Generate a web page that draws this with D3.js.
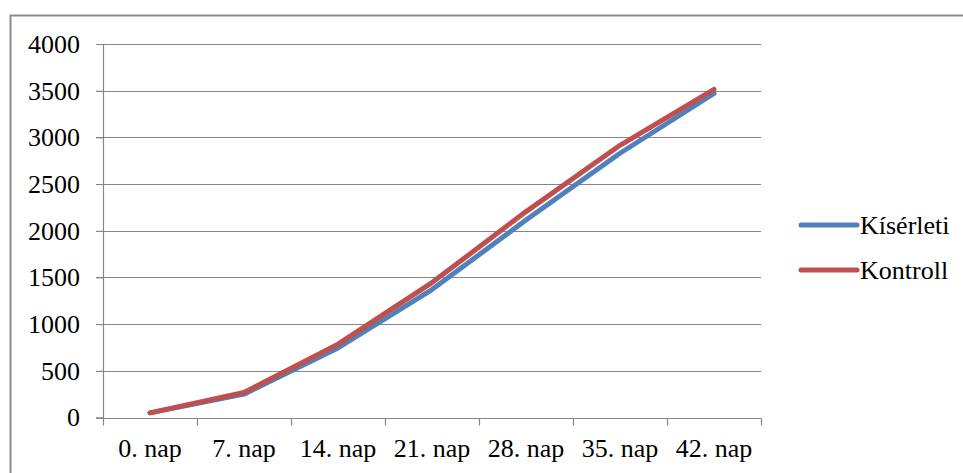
<!DOCTYPE html>
<html>
<head>
<meta charset="utf-8">
<script src="https://cdn.jsdelivr.net/npm/d3@7"></script>
<style>
  html, body { margin: 0; padding: 0; background: #fff; }
  svg { display: block; }
  svg text { font-family: "Liberation Serif", "Times New Roman", serif; font-size: 26px; fill: #000; }
</style>
</head>
<body>
<svg id="chart" width="963" height="473"></svg>
<script>
const categories = ['0. nap', '7. nap', '14. nap', '21. nap', '28. nap', '35. nap', '42. nap']
const kiserleti = [50, 250, 745, 1370, 2115, 2830, 3470]
const kontroll = [50, 268, 785, 1445, 2205, 2915, 3515]
const yTicks = [0, 500, 1000, 1500, 2000, 2500, 3000, 3500, 4000]

const seriesList = [
  { name: 'Kísérleti', data: kiserleti, color: '#4F81BD' },
  { name: 'Kontroll', data: kontroll, color: '#C0504D' },
]

const svg = d3.select('#chart')
const gridColor = '#868686'

const plot = { left: 103, right: 761, top: 44, bottom: 417.5 }

// outer chart border (only left and top visible in frame)
svg.append('path')
  .attr('d', 'M10.5,480 V15.5 H970')
  .attr('fill', 'none')
  .attr('stroke', '#8c8c8c')
  .attr('stroke-width', 2)

const x = d3.scaleBand().domain(categories).range([plot.left, plot.right]).padding(0)
const y = d3.scaleLinear().domain([0, 4000]).range([plot.bottom, plot.top])

// horizontal gridlines
svg.append('g')
  .selectAll('line')
  .data(yTicks)
  .join('line')
  .attr('x1', plot.left - 7)
  .attr('x2', plot.right)
  .attr('y1', d => Math.round(y(d)) + 0.5)
  .attr('y2', d => Math.round(y(d)) + 0.5)
  .attr('stroke', gridColor)
  .attr('stroke-width', 1.2)

// y axis
const yAxis = svg.append('g')
  .attr('transform', `translate(${plot.left},0)`)
  .call(d3.axisLeft(y).tickValues(yTicks).tickFormat(d3.format('d')).tickSize(7).tickPadding(16))
  .attr('font-family', null)
  .attr('font-size', null)
yAxis.select('.domain').attr('stroke', gridColor).attr('stroke-width', 1.2)
yAxis.selectAll('.tick line').attr('stroke', gridColor)
yAxis.selectAll('text').attr('fill', null)

// x axis: ticks at band edges, labels at centres
const xAxisG = svg.append('g')
  .attr('transform', `translate(0,${Math.round(plot.bottom) + 0.5})`)
xAxisG.append('line')
  .attr('x1', plot.left).attr('x2', plot.right)
  .attr('stroke', gridColor).attr('stroke-width', 1.2)
const edges = categories.map(c => x(c)).concat([x(categories[categories.length - 1]) + x.bandwidth()])
xAxisG.selectAll('line.tick')
  .data(edges)
  .join('line')
  .attr('class', 'tick')
  .attr('x1', d => Math.round(d) + 0.5)
  .attr('x2', d => Math.round(d) + 0.5)
  .attr('y1', 0)
  .attr('y2', 7)
  .attr('stroke', gridColor)
  .attr('stroke-width', 1.2)
xAxisG.selectAll('text')
  .data(categories)
  .join('text')
  .attr('x', d => x(d) + x.bandwidth() / 2)
  .attr('y', 38.5)
  .attr('text-anchor', 'middle')
  .text(d => d)

// lines
const line = d3.line()
  .x((d, i) => x(categories[i]) + x.bandwidth() / 2)
  .y(d => y(d))

svg.append('g')
  .selectAll('path')
  .data(seriesList)
  .join('path')
  .attr('d', s => line(s.data))
  .attr('fill', 'none')
  .attr('stroke', s => s.color)
  .attr('stroke-width', 5)
  .attr('stroke-linecap', 'round')
  .attr('stroke-linejoin', 'round')

// legend
const legend = svg.append('g')
  .selectAll('g')
  .data(seriesList)
  .join('g')
  .attr('transform', (d, i) => `translate(801,${225 + i * 45})`)
legend.append('line')
  .attr('x1', 0).attr('x2', 56)
  .attr('stroke', d => d.color)
  .attr('stroke-width', 5)
  .attr('stroke-linecap', 'round')
legend.append('text')
  .attr('x', 59)
  .attr('dy', '0.33em')
  .text(d => d.name)
</script>
</body>
</html>
